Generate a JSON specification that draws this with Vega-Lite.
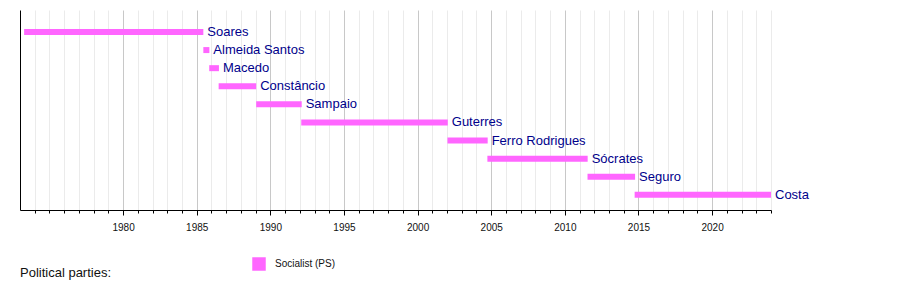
{
  "$schema": "https://vega.github.io/schema/vega-lite/v6.json",
  "width": 751,
  "height": 200,
  "autosize": {"type": "none"},
  "padding": {"left": 20, "top": 10, "right": 129, "bottom": 80},
  "background": "white",
  "config": {"view": {"stroke": null}, "font": "Liberation Sans"},
  "title": {"text": "Political parties:", "orient": "bottom", "anchor": "start", "fontSize": 13, "fontWeight": "normal", "font": "Liberation Sans", "color": "#111111", "offset": 0, "dy": -4},
  "data": {
    "values": [
      {"name": "Soares", "start": 1973.28, "end": 1985.45, "party": "Socialist (PS)"},
      {"name": "Almeida Santos", "start": 1985.45, "end": 1985.86, "party": "Socialist (PS)"},
      {"name": "Macedo", "start": 1985.85, "end": 1986.51, "party": "Socialist (PS)"},
      {"name": "Constâncio", "start": 1986.49, "end": 1989.04, "party": "Socialist (PS)"},
      {"name": "Sampaio", "start": 1989.04, "end": 1992.13, "party": "Socialist (PS)"},
      {"name": "Guterres", "start": 1992.1, "end": 2002.05, "party": "Socialist (PS)"},
      {"name": "Ferro Rodrigues", "start": 2002.03, "end": 2004.76, "party": "Socialist (PS)"},
      {"name": "Sócrates", "start": 2004.74, "end": 2011.55, "party": "Socialist (PS)"},
      {"name": "Seguro", "start": 2011.54, "end": 2014.77, "party": "Socialist (PS)"},
      {"name": "Costa", "start": 2014.74, "end": 2024.0, "party": "Socialist (PS)"}
    ]
  },
  "encoding": {
    "y": {
      "field": "name", "type": "nominal", "sort": null,
      "scale": {"paddingInner": 0, "paddingOuter": 0.525, "align": 0.68},
      "axis": {"labels": false, "ticks": false, "title": null, "grid": false, "domainColor": "black", "domainWidth": 1}
    },
    "x": {
      "field": "start", "type": "quantitative",
      "scale": {"domain": [1973, 2024], "nice": false, "zero": false},
      "axis": {
        "title": null,
        "values": [1974,1975,1976,1977,1978,1979,1980,1981,1982,1983,1984,1985,1986,1987,1988,1989,1990,1991,1992,1993,1994,1995,1996,1997,1998,1999,2000,2001,2002,2003,2004,2005,2006,2007,2008,2009,2010,2011,2012,2013,2014,2015,2016,2017,2018,2019,2020,2021,2022,2023,2024],
        "format": "d",
        "labelExpr": "(datum.value % 5 === 0 && datum.value >= 1980 && datum.value <= 2020) ? datum.label : ''",
        "grid": true,
        "gridColor": {"condition": {"test": "datum.value % 5 === 0 && datum.value >= 1980", "value": "#c8c8c8"}, "value": "#ebebeb"},
        "gridWidth": 1,
        "tickSize": {"condition": {"test": "datum.value % 5 === 0 && datum.value >= 1980", "value": 5}, "value": 3},
        "tickColor": "black",
        "domainColor": "black",
        "labelFontSize": 10,
        "labelFont": "Liberation Sans",
        "labelColor": "#111111",
        "labelPadding": 7,
        "labelFlush": false,
        "labelOverlap": false
      }
    }
  },
  "layer": [
    {
      "mark": {"type": "bar", "height": 6, "cornerRadius": 0},
      "encoding": {
        "x2": {"field": "end"},
        "color": {
          "field": "party", "type": "nominal",
          "scale": {"range": ["#ff66ff"]},
          "legend": {
            "title": null, "orient": "none", "legendX": 232, "legendY": 247,
            "symbolType": "square", "symbolSize": 182, "symbolStrokeWidth": 0, "symbolOpacity": 1,
            "labelFontSize": 10, "labelFont": "Liberation Sans", "labelColor": "#111111", "labelOffset": 9, "padding": 0
          }
        }
      }
    },
    {
      "mark": {"type": "text", "align": "left", "baseline": "middle", "dx": 4, "fontSize": 13, "font": "Liberation Sans", "color": "darkblue"},
      "encoding": {
        "x": {"field": "end", "type": "quantitative"},
        "text": {"field": "name"}
      }
    }
  ]
}
